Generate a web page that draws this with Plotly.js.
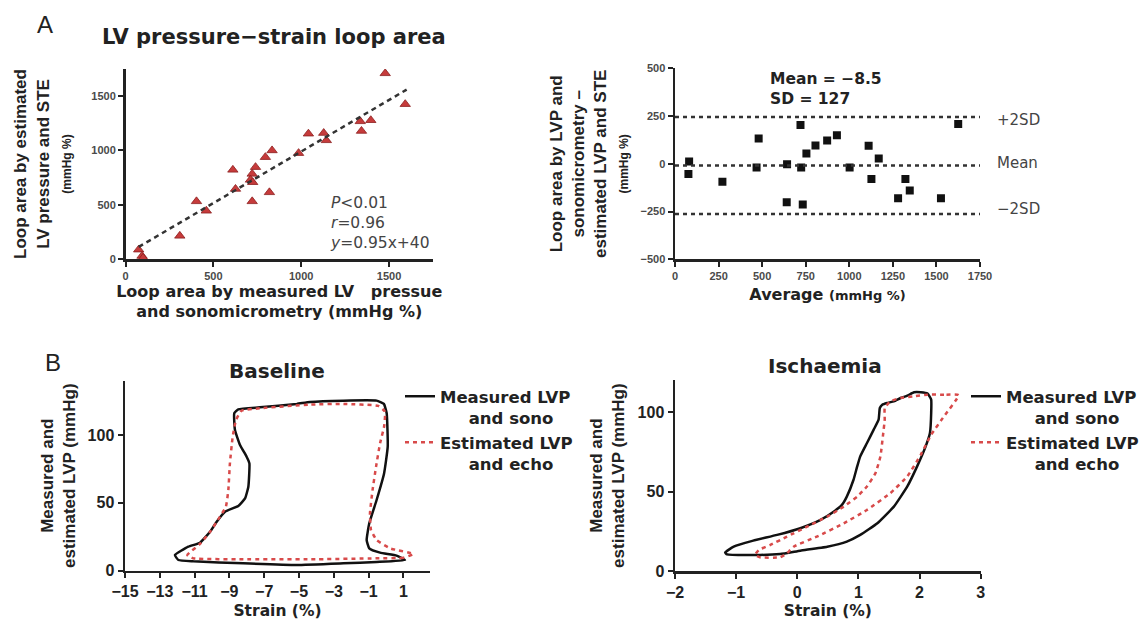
<!DOCTYPE html>
<html>
<head>
<meta charset="utf-8">
<script src="https://cdn.plot.ly/plotly-3.0.1.min.js"></script>
<style>
  html, body { margin: 0; padding: 0; background: #fff; }
  #chart { width: 1142px; height: 620px; }
</style>
</head>
<body>
<div id="chart"></div>
<script>
// ---------------- DATA ----------------
// Panel A (left): loop area by measured LVP + sonomicrometry (x) vs estimated LVP + STE (y), mmHg %
const areaMeasured  = [1478, 1592, 1336, 1396, 1343, 1041, 1128, 1143, 985, 834, 796, 740, 611, 721, 711, 724, 626, 819, 721, 404, 460, 309, 75, 94, 100];
const areaEstimated = [1710, 1426, 1268, 1278, 1179, 1154, 1160, 1093, 975, 1000, 938, 846, 821, 784, 729, 707, 645, 614, 531, 531, 444, 213, 86, 28, 10];
const regSlope = 0.95;
const regIntercept = 40;
const regRangeX = [75, 1600];

// Panel A (right): Bland-Altman
const baAverage    = [81, 77, 272, 480, 468, 643, 641, 720, 724, 733, 754, 806, 873, 929, 1002, 1111, 1169, 1127, 1280, 1322, 1347, 1526, 1625];
const baDifference = [12, -54, -94, 132, -19, -2, -201, 203, -19, -213, 54, 96, 122, 150, -19, 94, 28, -80, -181, -80, -140, -181, 209];
const baMean = -8.5;
const baSD = 127;
const baLineX = [0, 1770];
const baLimitLabels = ["+2SD", "Mean", "\u22122SD"];

// Panel B: pressure-strain loops (strain %, LVP mmHg)
const baseMeasStrain = [1.09, -0.54, -2.45, -5.13, -8.20, -11.07, -11.93, -12.13, -11.36, -10.69, -10.11, -9.73, -9.25, -8.49, -8.10, -7.91, -7.85, -8.01, -8.39, -8.68, -8.72, -8.49, -7.24, -5.13, -4.37, -2.45, -0.54, -0.12, 0.04, 0.10, -0.11, -0.54, -0.96, -1.11, -0.96, -0.34, 0.61, 1.09];
const baseMeasLVP    = [7.9, 6.4, 5.4, 4.2, 5.4, 6.9, 7.9, 11.5, 17.7, 20.6, 28.7, 36.1, 43.5, 47.7, 53.3, 61.9, 79.1, 84.0, 92.6, 103.7, 116.0, 118.9, 120.4, 122.9, 124.3, 125.3, 125.3, 122.9, 116.0, 91.4, 71.7, 52.1, 34.9, 22.6, 16.5, 13.3, 11.1, 7.9];
const baseEstStrain  = [1.57, 1.00, -0.54, -4.37, -8.20, -11.07, -11.42, -10.69, -10.11, -9.54, -9.20, -9.06, -8.97, -8.81, -8.62, -8.30, -7.24, -4.37, -2.45, -0.44, -0.06, -0.11, -0.34, -0.57, -0.77, -0.92, -0.86, -0.54, 0.23, 1.57];
const baseEstLVP     = [12.3, 9.6, 9.1, 8.4, 8.4, 9.1, 11.5, 19.7, 28.7, 39.8, 47.2, 59.5, 79.1, 98.8, 111.1, 117.9, 119.7, 122.4, 122.9, 121.4, 117.2, 106.1, 93.9, 76.7, 59.5, 42.3, 30.0, 22.6, 16.5, 12.3];

const ischMeasStrain = [-1.18, -1.15, -0.61, -0.28, 0.05, 0.49, 0.81, 1.03, 1.31, 1.58, 1.80, 1.96, 2.10, 2.17, 2.19, 2.19, 2.13, 2.02, 1.91, 1.80, 1.69, 1.58, 1.47, 1.39, 1.35, 1.33, 1.25, 1.14, 1.03, 0.98, 0.92, 0.81, 0.73, 0.60, 0.38, 0.05, -0.33, -0.72, -1.04, -1.18];
const ischMeasLVP    = [11.6, 10.5, 10.1, 10.7, 12.8, 15.3, 18.5, 22.7, 30.0, 40.5, 53.2, 65.8, 78.4, 86.8, 99.4, 107.8, 111.6, 112.4, 112.4, 110.3, 108.8, 106.7, 105.7, 104.6, 102.5, 95.2, 88.9, 80.5, 72.1, 65.8, 57.4, 46.8, 41.6, 37.4, 32.1, 26.9, 22.7, 19.1, 15.3, 11.6];
const ischEstStrain  = [2.64, 2.40, 2.13, 1.91, 1.69, 1.52, 1.43, 1.43, 1.40, 1.36, 1.28, 1.14, 0.98, 0.76, 0.49, 0.16, -0.17, -0.44, -0.63, -0.69, -0.61, -0.28, -0.17, -0.06, 0.32, 0.76, 1.14, 1.52, 1.80, 2.02, 2.19, 2.40, 2.64];
const ischEstLVP     = [110.6, 110.9, 110.9, 109.9, 108.8, 106.7, 102.5, 95.2, 84.7, 72.1, 61.6, 53.2, 46.8, 40.5, 34.2, 27.9, 21.6, 16.4, 13.2, 10.1, 8.6, 8.6, 11.1, 15.3, 21.6, 30.0, 38.4, 48.9, 59.5, 73.1, 85.7, 97.3, 110.6];

const NB = "\u00a0\u00a0\u00a0\u00a0\u00a0";
const seriesNames = ["Measured LVP<br>" + NB + "and sono", "Estimated LVP<br>" + NB + "and echo"];

// ---------------- STYLE ----------------
const W = 1142, H = 620;
const FONT = "Liberation Sans, Arial, Helvetica, sans-serif";   // rotated titles, ticks, panel letters
const WIDE = "DejaVu Sans, Verdana, sans-serif";                // horizontal texts
const INK = "#222222";
const RED = "#d84a4a";
const px = v => v / W;
const py = v => 1 - v / H;

const axisBase = {
  showline: true, linewidth: 2.5, linecolor: INK,
  ticks: "outside", ticklen: 5, tickwidth: 2, tickcolor: INK,
  showgrid: false, zeroline: false, fixedrange: true
};
const smallTick = { family: FONT, size: 11, color: "#4a4a4a", weight: "bold" };
const bigTick = { family: FONT, size: 16, color: INK, weight: "bold" };
const yTitleFont = { family: FONT, size: 17, color: INK, weight: "bold" };
const xTitleFont = { family: WIDE, size: 16, color: INK, weight: "bold" };
const strainFont = { family: WIDE, size: 15.5, color: INK, weight: "bold" };
const small = (t, s) => "<span style='font-size:" + s + "px'>" + t + "</span>";

// ---------------- TRACES ----------------
const limits = [baMean + 2 * baSD, baMean, baMean - 2 * baSD];
const traces = [
  {
    x: areaMeasured, y: areaEstimated, xaxis: "x", yaxis: "y",
    type: "scatter", mode: "markers", showlegend: false,
    marker: { symbol: "triangle-up", size: 9, color: "#c63b3b", line: { color: "#8c2020", width: 0.8 } }
  },
  {
    x: regRangeX, y: regRangeX.map(v => regSlope * v + regIntercept), xaxis: "x", yaxis: "y",
    type: "scatter", mode: "lines", showlegend: false,
    line: { color: "#333", width: 2.5, dash: "5px,4px" }
  },
  {
    x: baAverage, y: baDifference, xaxis: "x2", yaxis: "y2",
    type: "scatter", mode: "markers", showlegend: false,
    marker: { symbol: "square", size: 8, color: "#111" }
  },
  ...limits.map(v => ({
    x: baLineX, y: baLineX.map(() => v), xaxis: "x2", yaxis: "y2",
    type: "scatter", mode: "lines", showlegend: false,
    line: { color: "#333", width: 2.5, dash: "4px,4px" }
  })),
  {
    x: baseMeasStrain, y: baseMeasLVP, xaxis: "x3", yaxis: "y3",
    type: "scatter", mode: "lines", name: seriesNames[0], legend: "legend",
    line: { color: "#111", width: 2.5, shape: "spline", smoothing: 0.4 }
  },
  {
    x: baseEstStrain, y: baseEstLVP, xaxis: "x3", yaxis: "y3",
    type: "scatter", mode: "lines", name: seriesNames[1], legend: "legend",
    line: { color: RED, width: 2.5, dash: "4px,4px", shape: "spline", smoothing: 0.4 }
  },
  {
    x: ischMeasStrain, y: ischMeasLVP, xaxis: "x4", yaxis: "y4",
    type: "scatter", mode: "lines", name: seriesNames[0], legend: "legend2",
    line: { color: "#111", width: 2.5, shape: "spline", smoothing: 0.4 }
  },
  {
    x: ischEstStrain, y: ischEstLVP, xaxis: "x4", yaxis: "y4",
    type: "scatter", mode: "lines", name: seriesNames[1], legend: "legend2",
    line: { color: RED, width: 2.5, dash: "4px,4px", shape: "spline", smoothing: 0.4 }
  }
];

// ---------------- LAYOUT ----------------
const legendBase = {
  xanchor: "left", yanchor: "top", bgcolor: "rgba(0,0,0,0)", borderwidth: 0,
  font: { family: WIDE, size: 16.5, color: INK, weight: "bold" },
  valign: "top", itemwidth: 30, tracegroupgap: 0
};
const ann = (text, x, y, font, extra) => Object.assign({
  text: text, x: x, y: y, xref: "paper", yref: "paper", showarrow: false,
  xanchor: "center", yanchor: "middle", font: font
}, extra || {});

const layout = {
  width: W, height: H,
  margin: { l: 0, r: 0, t: 0, b: 0, pad: 0, autoexpand: false },
  paper_bgcolor: "#ffffff", plot_bgcolor: "rgba(0,0,0,0)",
  font: { family: FONT, color: INK },
  showlegend: true,
  legend: Object.assign({ x: px(400), y: py(379) }, legendBase),
  legend2: Object.assign({ x: px(966), y: py(379) }, legendBase),

  xaxis: Object.assign({}, axisBase, {
    domain: [px(125.5), px(433)], range: [0, 1750], anchor: "y",
    tickvals: [0, 500, 1000, 1500], tickfont: smallTick,
    title: { text: "Loop area by measured LV\u00a0\u00a0\u00a0pressue<br>and sonomicrometry (mmHg %)", font: xTitleFont, standoff: 5 }
  }),
  yaxis: Object.assign({}, axisBase, {
    domain: [py(259), py(69)], range: [0, 1750], anchor: "x",
    tickvals: [0, 500, 1000, 1500], tickfont: smallTick,
    title: { text: "Loop area by estimated<br>LV pressure and STE<br>" + small("(mmHg %)", 12), font: yTitleFont, standoff: 16 }
  }),
  xaxis2: Object.assign({}, axisBase, {
    domain: [px(675), px(980)], range: [0, 1750], anchor: "y2",
    tickvals: [0, 250, 500, 750, 1000, 1250, 1500, 1750], tickfont: smallTick,
    title: { text: "Average " + small("(mmHg %)", 13), font: xTitleFont, standoff: 8 }
  }),
  yaxis2: Object.assign({}, axisBase, {
    domain: [py(259.3), py(68.3)], range: [-500, 500], anchor: "x2",
    tickvals: [-500, -250, 0, 250, 500], tickfont: smallTick,
    title: { text: "Loop area by LVP and<br>sonomicrometry \u2013<br>estimated LVP and STE<br>" + small("(mmHg %)", 12), font: yTitleFont, standoff: 8 }
  }),
  xaxis3: Object.assign({}, axisBase, {
    domain: [px(125), px(430)], range: [-15, 2.53], anchor: "y3",
    tickvals: [-15, -13, -11, -9, -7, -5, -3, -1, 1], tickfont: bigTick,
    title: { text: "Strain (%)", font: strainFont, standoff: 9 }
  }),
  yaxis3: Object.assign({}, axisBase, {
    domain: [py(570.7), py(380.7)], range: [0, 140], anchor: "x3",
    tickvals: [0, 50, 100], tickfont: bigTick,
    title: { text: "Measured and<br>estimated LVP (mmHg)", font: yTitleFont, standoff: 8 }
  }),
  xaxis4: Object.assign({}, axisBase, {
    domain: [px(675), px(980.7)], range: [-2, 3], anchor: "y4",
    tickvals: [-2, -1, 0, 1, 2, 3], tickfont: bigTick,
    title: { text: "Strain (%)", font: strainFont, standoff: 9 }
  }),
  yaxis4: Object.assign({}, axisBase, {
    domain: [py(571), py(380.2)], range: [0, 120], anchor: "x4",
    tickvals: [0, 50, 100], tickfont: bigTick,
    title: { text: "Measured and<br>estimated LVP (mmHg)", font: yTitleFont, standoff: 9 }
  }),

  annotations: [
    ann("A", px(45), py(25), { family: FONT, size: 24, color: INK }),
    ann("<b>LV pressure\u2212strain loop area</b>", px(274), py(37), { family: WIDE, size: 21, color: INK }),
    ann("<i>P</i>&lt;0.01<br><i>r</i>=0.96<br><i>y</i>=0.95x+40", px(328), py(223),
        { family: WIDE, size: 15.5, color: "#444" }, { xanchor: "left", align: "left" }),
    ann("<b>Mean = \u2212" + Math.abs(baMean) + "<br>SD = " + baSD + "</b>", px(768), py(89),
        { family: WIDE, size: 15.5, color: INK }, { xanchor: "left", align: "left" }),
    ...limits.map((v, i) => ann(baLimitLabels[i], px(995), v,
        { family: WIDE, size: 15, color: "#444" }, { xanchor: "left", yref: "y2", yshift: [-3, 2, 5][i] })),
    ann("B", px(53), py(362), { family: FONT, size: 24, color: INK }),
    ann("<b>Baseline</b>", px(277), py(371), { family: WIDE, size: 20, color: INK }),
    ann("<b>Ischaemia</b>", px(825), py(366), { family: WIDE, size: 20, color: INK })
  ]
};

Plotly.newPlot("chart", traces, layout, { displayModeBar: false, staticPlot: true });
</script>
</body>
</html>
